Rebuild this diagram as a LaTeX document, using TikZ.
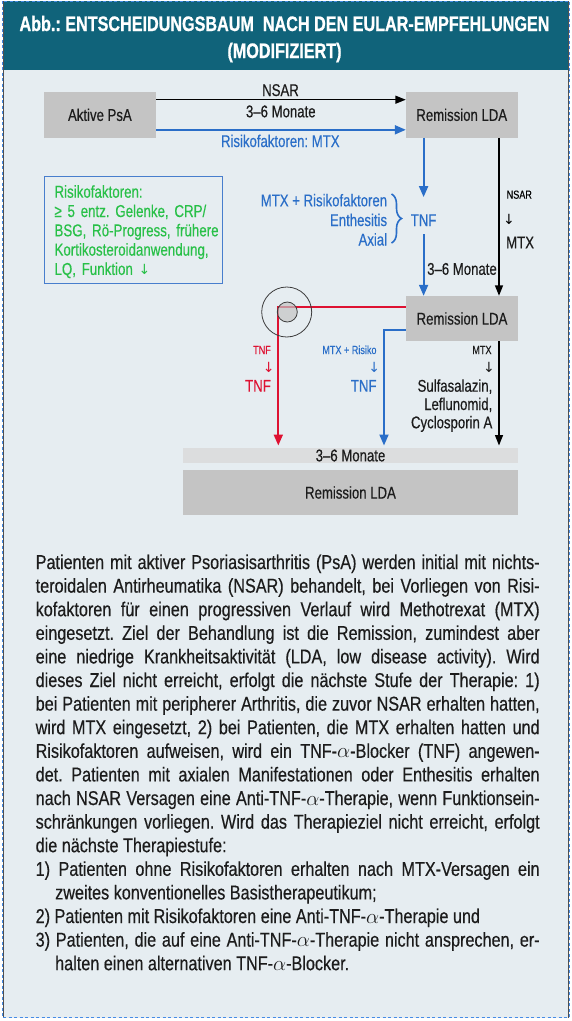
\documentclass[tikz,border=0pt]{standalone}
\usepackage{fontspec}
\setmainfont{Liberation Sans}[FakeStretch=0.775,FakeBold=0.4]
\newfontfamily\bodyfont{Liberation Sans}[FakeStretch=0.81,FakeBold=0.4]
\newfontfamily\headfont{Liberation Sans}[FakeStretch=0.77,FakeBold=0.8]
\newfontfamily\arrfont{DejaVu Sans}
\usetikzlibrary{arrows.meta,decorations.pathreplacing}
\definecolor{hdteal}{RGB}{16,99,122}
\definecolor{bgc}{RGB}{230,237,241}
\definecolor{boxgray}{RGB}{196,196,196}
\definecolor{bandgray}{RGB}{220,221,222}
\definecolor{dblue}{RGB}{42,110,200}
\definecolor{dred}{RGB}{222,18,50}
\definecolor{rgreen}{RGB}{40,192,72}
\definecolor{riskframe}{RGB}{72,126,205}
\definecolor{framegray}{RGB}{80,80,80}
\definecolor{dashblue}{RGB}{70,140,230}
\definecolor{txtc}{RGB}{28,28,28}
\definecolor{circgray}{RGB}{60,60,60}
\newcommand\msz{\fontsize{17}{20}\selectfont}
\newcommand\ssz{\fontsize{11.7}{13}\selectfont}
\newcommand\asz{\arrfont\fontsize{14}{15}\selectfont}
\frenchspacing
\begin{document}
\frenchspacing
\begin{tikzpicture}[x=1pt,y=-1pt,line join=miter,
  box/.style={fill=boxgray,inner sep=0pt,font=\msz,text=txtc},
  lbl/.style={inner sep=0pt,font=\msz,text=txtc},
  blbl/.style={lbl,text=dblue},
  rlbl/.style={lbl,text=dred},
  sml/.style={inner sep=0pt,font=\ssz},
  arw/.style={inner sep=0pt,font=\asz},
  blk/.style={draw=black,line width=1.4pt,-{Triangle[length=10.5pt,width=8pt]}},
  blu/.style={draw=dblue,line width=1.9pt,-{Triangle[length=11pt,width=9pt]}},
  rd/.style={draw=dred,line width=1.9pt,-{Triangle[length=11pt,width=9pt]}},
  titletxt/.style={inner sep=0pt,text=white,font=\headfont\bfseries\fontsize{21}{24}\selectfont},
  para/.style={inner sep=0pt,text width=504pt,align=justify,text=txtc,
    font=\bodyfont\fontsize{20}{23.6}\selectfont\frenchspacing}]
\useasboundingbox (0,0) rectangle (571,1021);
% frame
\fill[bgc] (2.5,1) rectangle (569,1018);
\fill[hdteal] (3,1) rectangle (568.5,70);
\draw[framegray,line width=1.1pt] (3.3,1) -- (3.3,1018) (568.3,1) -- (568.3,1018);
\draw[dashblue,line width=1pt,dash pattern=on 3pt off 2.5pt] (2.3,1) rectangle (569.5,1017.6);
% title
\node[titletxt,anchor=base] (t1) at (284.5,31) {Abb.: ENTSCHEIDUNGSBAUM\ \ NACH DEN EULAR-EMPFEHLUNGEN};
\node[titletxt,anchor=base] (t2) at (284.5,58) {(MODIFIZIERT)};
% boxes
\node[box,minimum width=111.8pt,minimum height=45.6pt] (a) at (99.9,114.8) {Aktive PsA};
\node[box,minimum width=111.5pt,minimum height=45.6pt] (r1) at (461.75,114.8) {Remission LDA};
\node[box,minimum width=112pt,minimum height=45pt] (r2) at (462,318.5) {Remission LDA};
\node[box,fill=bandgray,minimum width=335pt,minimum height=15.6pt] (b) at (350.5,455.5) {3–6 Monate};
\node[box,minimum width=335pt,minimum height=45pt] (r3) at (350.5,492.5) {Remission LDA};
% risk box
\node[draw=riskframe,line width=1.4pt,minimum width=178pt,minimum height=106.6pt,inner sep=0pt,anchor=north west] (rk) at (44,176) {};
\node[inner sep=0pt,text width=165pt,align=left,anchor=base west,text=rgreen,font=\fontsize{17.2}{19.3}\selectfont\frenchspacing] (rkt) at (54.3,197.7)
 {Risikofaktoren:\\ ≥ 5 entz. Gelenke, CRP/\\ BSG, Rö-Progress, frühere\\ Kortikosteroidanwendung,\\ LQ, Funktion {\arrfont\fontsize{14}{14}\selectfont ↓}};
% top arrows and labels
\draw[blk] ([yshift=15.1pt]a.east) -- ([yshift=15.1pt]r1.west);
\draw[blu] ([yshift=-15pt]a.east) -- ([yshift=-15pt]r1.west);
\node[lbl,anchor=base] (l1) at (280.5,96) {NSAR};
\node[lbl,anchor=base] (l2) at (280.8,117.3) {3–6 Monate};
\node[blbl,anchor=base] (l3) at (280.3,147) {Risikofaktoren: MTX};
% brace group
\node[blbl,anchor=base east] (m1) at (387.3,206.3) {MTX + Risikofaktoren};
\node[blbl,anchor=base east] (m2) at (387.3,226) {Enthesitis};
\node[blbl,anchor=base east] (m3) at (387.3,245.5) {Axial};
\draw[dblue,line width=1.6pt,decorate,decoration={brace,amplitude=10pt}] (391.5,194) -- (391.5,243);
\node[blbl,anchor=base] (tnf) at (423.6,226) {TNF};
\draw[blu] (r1.south -| tnf.north) -- ([yshift=17pt]tnf.north);
\draw[blu] ([yshift=-8pt]tnf.south) -- (tnf.south |- r2.north);
\node[lbl,anchor=base west] (l4) at (427,274.8) {3–6 Monate};
% right black path
\coordinate (xr) at (499,0);
\draw[blk] (r1.south -| xr) -- (r2.north -| xr);
\node[sml,anchor=base west] (n1) at (506.5,198.7) {NSAR};
\node[arw,anchor=base] (n2) at (509,224.5) {↓};
\node[lbl,anchor=base west] (n3) at (506,248.4) {MTX};
% lower paths
\coordinate (rc) at (278.3,306.7);
\coordinate (bc) at (384,330);
\draw[rd,shorten >=2pt] ([yshift=11.8pt]r2.west) -| (rc |- b.north);
\draw[blu,shorten >=2pt] ([yshift=-11.5pt]r2.west) -| (bc |- b.north);
\draw[blk,shorten >=2pt] (r2.south -| xr) -- (b.north -| xr);
% circles
\node[circle,draw=circgray,line width=0.8pt,minimum size=50pt,inner sep=0pt] (oc) at (286.7,312) {};
\node[circle,draw=circgray,line width=0.8pt,fill=boxgray,fill opacity=0.7,draw opacity=1,minimum size=20pt,inner sep=0pt] (ic) at (287.3,312) {};
% red labels
\node[sml,text=dred,anchor=base east] (rl1) at (271,354) {TNF};
\node[arw,text=dred,anchor=base] (rl2) at (268.7,372) {↓};
\node[rlbl,anchor=base east] (rl3) at (271,391.7) {TNF};
% blue labels
\node[sml,text=dblue,anchor=base east] (bl1) at (376.7,354) {MTX + Risiko};
\node[arw,text=dblue,anchor=base] (bl2) at (374.3,372) {↓};
\node[blbl,anchor=base east] (bl3) at (376.7,391.7) {TNF};
% black labels
\node[sml,text=txtc,anchor=base east] (kl1) at (491.7,354) {MTX};
\node[arw,text=txtc,anchor=base] (kl2) at (489,372) {↓};
\node[lbl,anchor=base east] (kl3) at (492.5,391.7) {Sulfasalazin,};
\node[lbl,anchor=base east] (kl4) at (492.5,410) {Leflunomid,};
\node[lbl,anchor=base east] (kl5) at (492.5,428.3) {Cyclosporin A};
% paragraph
\node[para,anchor=base west] (txt) at (35.5,569)
{\tolerance=10000\hyphenpenalty=10000\exhyphenpenalty=10000
Patienten mit aktiver Psoriasisarthritis (PsA) werden initial mit nichts-\linebreak
teroidalen Antirheumatika (NSAR) behandelt, bei Vorliegen von Risi-\linebreak
kofaktoren für einen progressiven Verlauf wird Methotrexat (MTX)\linebreak
eingesetzt. Ziel der Behandlung ist die Remission, zumindest aber\linebreak
eine niedrige Krankheitsaktivität (LDA, low disease activity). Wird\linebreak
dieses Ziel nicht erreicht, erfolgt die nächste Stufe der Therapie: 1)\linebreak
bei Patienten mit peripherer Arthritis, die zuvor NSAR erhalten hatten,\linebreak
wird MTX eingesetzt, 2) bei Patienten, die MTX erhalten hatten und\linebreak
Risikofaktoren aufweisen, wird ein TNF-$\alpha$-Blocker (TNF) angewen-\linebreak
det. Patienten mit axialen Manifestationen oder Enthesitis erhalten\linebreak
nach NSAR Versagen eine Anti-TNF-$\alpha$-Therapie, wenn Funktionsein-\linebreak
schränkungen vorliegen. Wird das Therapieziel nicht erreicht, erfolgt\linebreak
die nächste Therapiestufe:\par
\hangindent=19.5pt\hangafter=1 1)~Patienten ohne Risikofaktoren erhalten nach MTX-Versagen ein\linebreak
zweites konventionelles Basistherapeutikum;\par
2)~Patienten mit Risikofaktoren eine Anti-TNF-$\alpha$-Therapie und\par
\hangindent=19.5pt\hangafter=1 3)~Patienten, die auf eine Anti-TNF-$\alpha$-Therapie nicht ansprechen, er-\linebreak
halten einen alternativen TNF-$\alpha$-Blocker.\par};
\end{tikzpicture}
\end{document}
